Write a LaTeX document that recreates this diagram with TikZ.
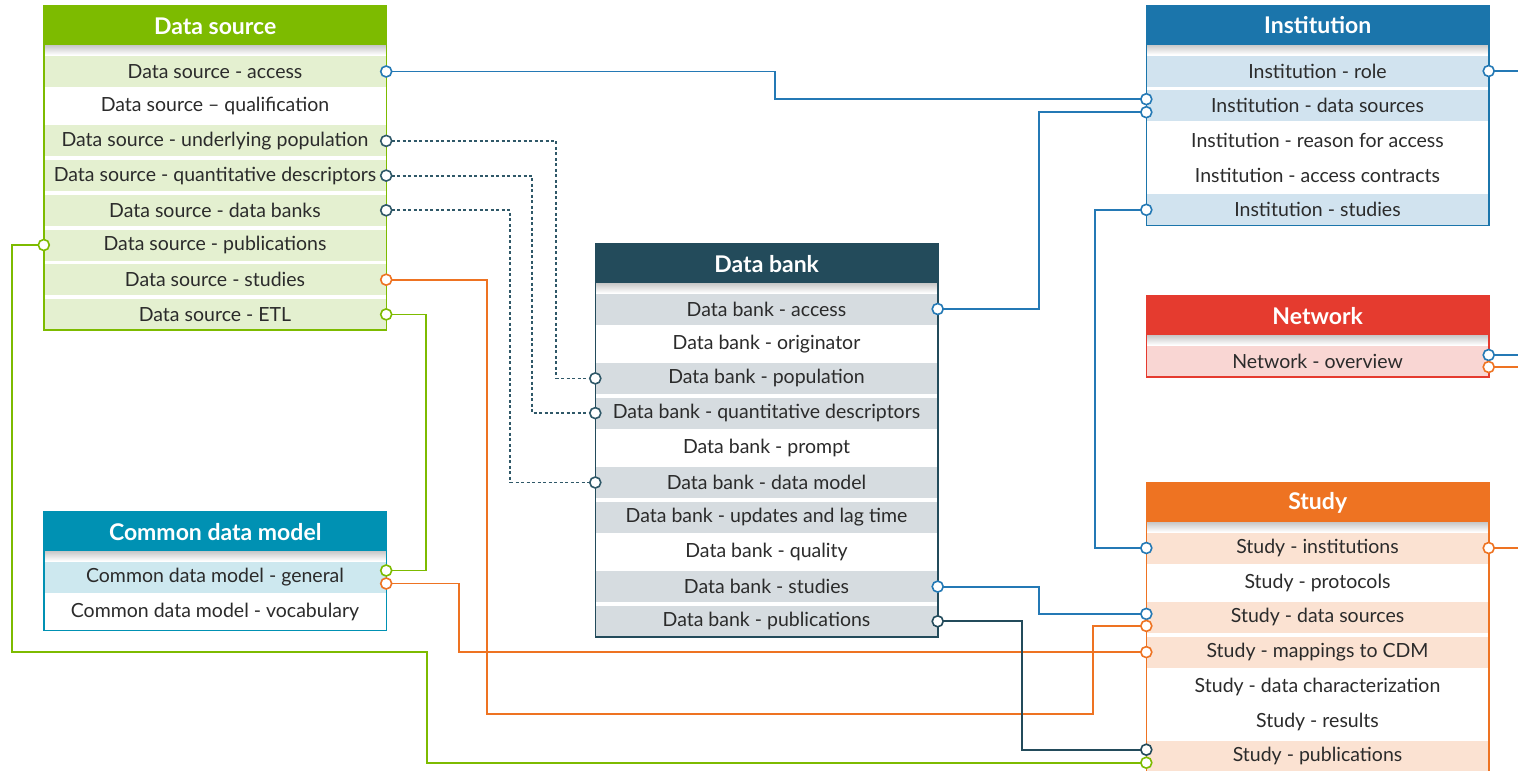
\documentclass[tikz,border=0pt]{standalone}
\usepackage{fontspec}
\setmainfont{Lato}
\usetikzlibrary{calc}
\definecolor{txt}{HTML}{2B2B2B}
\definecolor{dsH}{HTML}{7DBB00}
\definecolor{dsR}{HTML}{E4F0D0}
\definecolor{inH}{HTML}{1B75AB}
\definecolor{inR}{HTML}{D1E3EF}
\definecolor{nwH}{HTML}{E53B2F}
\definecolor{nwR}{HTML}{F9D6D3}
\definecolor{stH}{HTML}{EE7322}
\definecolor{stR}{HTML}{FBE2D2}
\definecolor{dbH}{HTML}{234B5B}
\definecolor{dbR}{HTML}{D6DCE0}
\definecolor{cdH}{HTML}{0091B3}
\definecolor{cdR}{HTML}{CDE8EF}
\definecolor{lblue}{HTML}{2479B5}
\definecolor{lorange}{HTML}{EE7322}
\definecolor{lgreen}{HTML}{7DBB00}
\definecolor{ldark}{HTML}{2F5868}
\begin{document}
\begin{tikzpicture}[x=1pt,y=-1pt,
 hdr/.style={anchor=north west, minimum width=342pt, minimum height=39.5pt, inner sep=0pt, text=white, font=\bfseries\fontsize{23}{27}\selectfont},
 erow/.style={minimum width=342pt, minimum height=31pt, inner sep=0pt, text=txt, font=\fontsize{19.5}{23}\selectfont},
 frame/.style={draw=#1, line width=1.6pt},
 link/.style={line width=1.8pt, draw=#1},
 dotlink/.style={line width=1.8pt, draw=ldark, dash pattern=on 3pt off 2.5pt},
 port/.style={circle, draw=#1, fill=white, line width=1.6pt, minimum size=11pt, inner sep=0pt},
]
\useasboundingbox (0,0) rectangle (1518,771);
\fill[white] (0,0) rectangle (1518,771);
\newcommand\hshadow[1]{\shade[top color=black!20, bottom color=white] (#1.south west) rectangle ([yshift=-9pt]#1.south east);}

% ---------- Data source ----------
\foreach \f/\t [count=\i] in {dsR/Data source - access, white/Data source – qualification, dsR/Data source - underlying population, dsR/Data source - quantitative descriptors, dsR/Data source - data banks, dsR/Data source - publications, dsR/Data source - studies, dsR/Data source - ETL}
  \node[erow, fill=\f] (ds\i) at (215, {71.5+34.7*(\i-1)}) {\t};
\node[hdr, fill=dsH] (dsh) at (44,6) {Data source};
\hshadow{dsh}
\draw[frame=dsH] (dsh.north west) rectangle (dsh.east |- ds8.south);

% ---------- Institution ----------
\foreach \f/\t [count=\i] in {inR/Institution - role, inR/Institution - data sources, white/Institution - reason for access, white/Institution - access contracts, inR/Institution - studies}
  \node[erow, fill=\f] (in\i) at (1317.5, {71+34.7*(\i-1)}) {\t};
\node[hdr, fill=inH] (inh) at (1146.5,5.5) {Institution};
\hshadow{inh}
\draw[frame=inH] (inh.north west) rectangle (inh.east |- in5.south);

% ---------- Network ----------
\node[erow, fill=nwR] (nw1) at (1317.5,361) {Network - overview};
\node[hdr, fill=nwH] (nwh) at (1146.5,296) {Network};
\hshadow{nwh}
\draw[frame=nwH] (nwh.north west) rectangle (nwh.east |- nw1.south);

% ---------- Study ----------
\foreach \f/\t [count=\i] in {stR/Study - institutions, white/Study - protocols, stR/Study - data sources, stR/Study - mappings to CDM, white/Study - data characterization, white/Study - results, stR/Study - publications}
  \node[erow, fill=\f] (st\i) at (1317.5, {548+34.7*(\i-1)}) {\t};
\node[hdr, fill=stH] (sth) at (1146.5,483) {Study};
\hshadow{sth}
\draw[frame=stH] (sth.south west) -- (sth.north west) -- (sth.north east) -- (sth.south east);
\draw[frame=stH] (sth.south west) -- ([yshift=-60pt]st7.south -| sth.west);
\draw[frame=stH] (sth.south east) -- ([yshift=-60pt]st7.south -| sth.east);

% ---------- Data bank ----------
\foreach \f/\t [count=\i] in {dbR/Data bank - access, white/Data bank - originator, dbR/Data bank - population, dbR/Data bank - quantitative descriptors, white/Data bank - prompt, dbR/Data bank - data model, dbR/Data bank - updates and lag time, white/Data bank - quality, dbR/Data bank - studies, dbR/Data bank - publications}
  \node[erow, fill=\f] (db\i) at (766.5, {309+34.7*(\i-1)}) {\t};
\node[hdr, fill=dbH] (dbh) at (595.5,244) {Data bank};
\hshadow{dbh}
\draw[frame=dbH] (dbh.north west) rectangle (dbh.east |- db10.south);

% ---------- Common data model ----------
\node[erow, fill=cdR] (cd1) at (215,577) {Common data model - general};
\node[erow, fill=white] (cd2) at (215,611.7) {Common data model - vocabulary};
\node[hdr, fill=cdH] (cdh) at (44,512) {Common data model};
\hshadow{cdh}
\draw[frame=cdH] (cdh.north west) rectangle ([yshift=-3pt]cdh.east |- cd2.south);

% ---------- free ends ----------
\coordinate (eRole) at ([xshift=40pt]in1.east);
\coordinate (eNwA) at ([xshift=40pt,yshift=6pt]nw1.east);
\coordinate (eNwB) at ([xshift=40pt,yshift=-6pt]nw1.east);
\coordinate (eStI) at ([xshift=40pt]st1.east);

% ---------- connectors ----------
\draw[link=lblue] (ds1.east) -- ++(389,0) |- ([yshift=6.5pt]in2.west);
\draw[link=lblue] (db1.east) -- ++(101,0) |- ([yshift=-6.5pt]in2.west);
\draw[link=lblue] (in5.west) -- ++(-51,0) |- (st1.west);
\draw[link=lblue] (in1.east) -- (eRole);
\draw[link=lblue] ([yshift=6pt]nw1.east) -- (eNwA);
\draw[link=lorange] ([yshift=-6pt]nw1.east) -- (eNwB);
\draw[link=lorange] (st1.east) -- (eStI);
\draw[dotlink] (ds3.east) -- ++(170,0) |- (db3.west);
\draw[dotlink] (ds4.east) -- ++(146,0) |- (db4.west);
\draw[dotlink] (ds5.east) -- ++(124,0) |- (db6.west);
\draw[link=lorange] (ds7.east) -- ++(101,0) -- ++(0,434) -| ([xshift=-53pt,yshift=-8.5pt]st3.west) -- ([yshift=-8.5pt]st3.west);
\draw[link=lgreen] (ds8.east) -- ++(40,0) |- ([yshift=6.5pt]cd1.east);
\draw[link=lorange] ([yshift=-6.5pt]cd1.east) -- ++(73,0) |- (st4.west);
\draw[link=lgreen] (ds6.west) -- ++(-32,0) |- ([xshift=-719pt]st4.west) |- ([yshift=-6.5pt]st7.west);
\draw[link=lblue] (db9.east) -- ++(101,0) |- ([yshift=3.5pt]st3.west);
\draw[link=dbH] (db10.east) -- ++(84,0) |- ([yshift=6.5pt]st7.west);

% ---------- ports ----------
\node[port=lblue] at (ds1.east) {};
\node[port=ldark] at (ds3.east) {};
\node[port=ldark] at (ds4.east) {};
\node[port=ldark] at (ds5.east) {};
\node[port=lgreen] at (ds6.west) {};
\node[port=lorange] at (ds7.east) {};
\node[port=lgreen] at (ds8.east) {};
\node[port=lblue] at (in1.east) {};
\node[port=lblue] at ([yshift=6.5pt]in2.west) {};
\node[port=lblue] at ([yshift=-6.5pt]in2.west) {};
\node[port=lblue] at (in5.west) {};
\node[port=lblue] at ([yshift=6pt]nw1.east) {};
\node[port=lorange] at ([yshift=-6pt]nw1.east) {};
\node[port=lblue] at (st1.west) {};
\node[port=lorange] at (st1.east) {};
\node[port=lblue] at ([yshift=3.5pt]st3.west) {};
\node[port=lorange] at ([yshift=-8.5pt]st3.west) {};
\node[port=lorange] at (st4.west) {};
\node[port=dbH] at ([yshift=6.5pt]st7.west) {};
\node[port=lgreen] at ([yshift=-6.5pt]st7.west) {};
\node[port=lblue] at (db1.east) {};
\node[port=ldark] at (db3.west) {};
\node[port=ldark] at (db4.west) {};
\node[port=ldark] at (db6.west) {};
\node[port=lblue] at (db9.east) {};
\node[port=dbH] at (db10.east) {};
\node[port=lgreen] at ([yshift=6.5pt]cd1.east) {};
\node[port=lorange] at ([yshift=-6.5pt]cd1.east) {};
\end{tikzpicture}
\end{document}
